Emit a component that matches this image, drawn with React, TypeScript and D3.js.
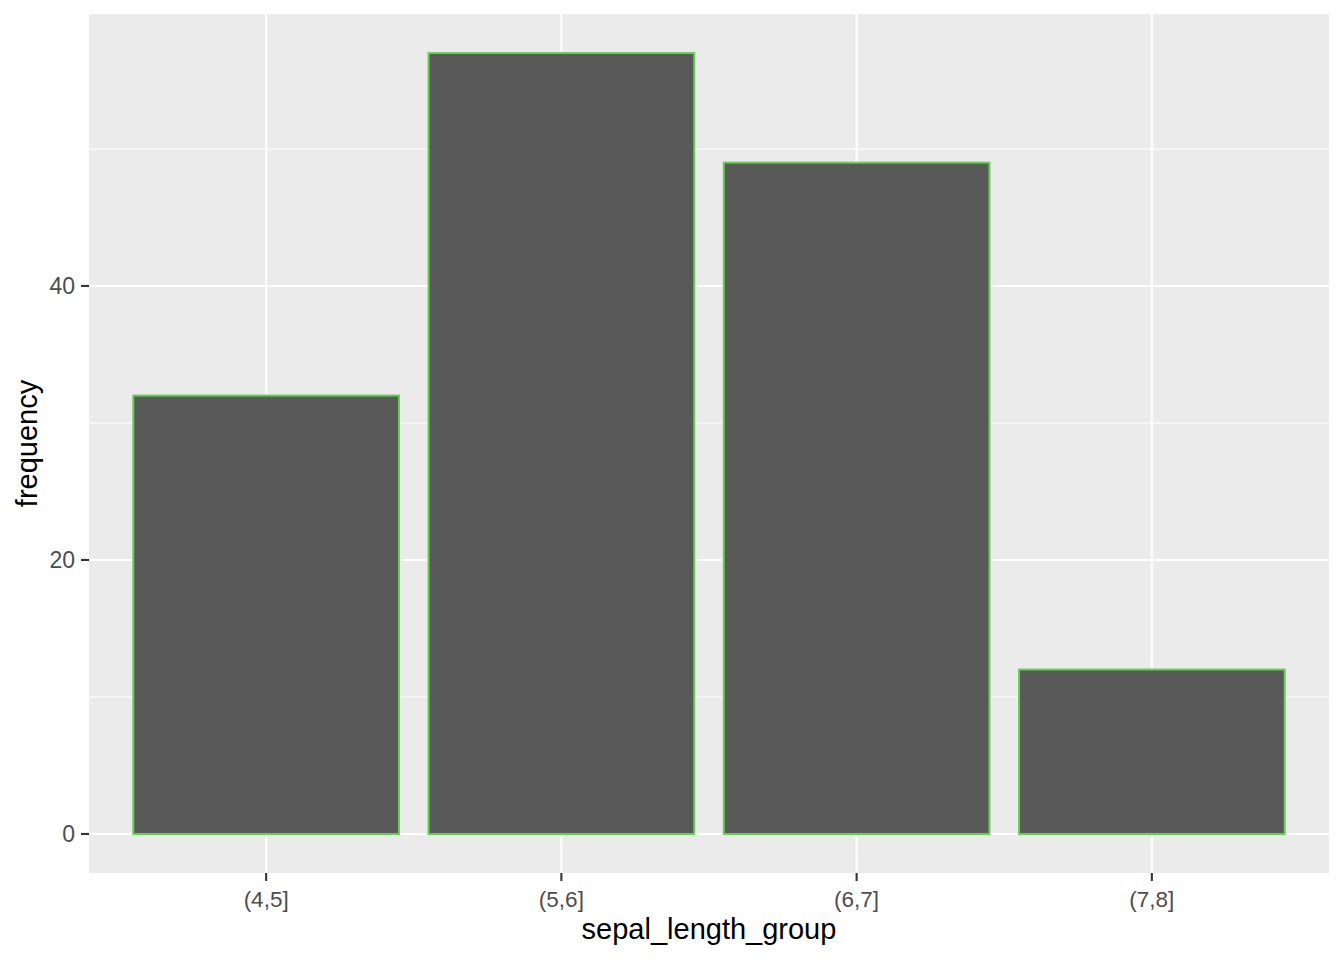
import { useEffect, useRef } from 'react';
import * as d3 from 'd3';

const groups = ['(4,5]', '(5,6]', '(6,7]', '(7,8]'];
const frequency = [32, 57, 49, 12];
const majorTicks = [0, 20, 40];
const minorTicks = [10, 30, 50];

const W = 1344, H = 960;
const PANEL = { l: 89, r: 1329, t: 14, b: 873 };
const FONT = '"Liberation Sans", Arial, sans-serif';

export default function App() {
  const svgRef = useRef<SVGSVGElement>(null);

  useEffect(() => {
    document.body.style.margin = '0';
    if (!svgRef.current) return;
    const svg = d3.select(svgRef.current);
    svg.selectAll('*').remove();

    // ggplot discrete scale: 0.6 units of expansion on each side, bar width 0.9
    const x = d3.scaleLinear().domain([0.4, groups.length + 0.6]).range([PANEL.l, PANEL.r]);
    const yMax = d3.max(frequency) ?? 1;
    const pad = yMax * 0.05;
    const y = d3.scaleLinear().domain([-pad, yMax + pad]).range([PANEL.b, PANEL.t]);

    svg.append('rect')
      .attr('x', PANEL.l).attr('y', PANEL.t)
      .attr('width', PANEL.r - PANEL.l).attr('height', PANEL.b - PANEL.t)
      .attr('fill', '#EBEBEB');

    // Grid
    minorTicks.forEach(t => {
      svg.append('line')
        .attr('x1', PANEL.l).attr('x2', PANEL.r).attr('y1', y(t)).attr('y2', y(t))
        .attr('stroke', '#fff').attr('stroke-width', 1.1);
    });
    majorTicks.forEach(t => {
      svg.append('line')
        .attr('x1', PANEL.l).attr('x2', PANEL.r).attr('y1', y(t)).attr('y2', y(t))
        .attr('stroke', '#fff').attr('stroke-width', 2.1);
    });
    groups.forEach((_, i) => {
      svg.append('line')
        .attr('x1', x(i + 1)).attr('x2', x(i + 1)).attr('y1', PANEL.t).attr('y2', PANEL.b)
        .attr('stroke', '#fff').attr('stroke-width', 2.1);
    });

    // Bars
    svg.append('g').selectAll('rect').data(frequency).enter()
      .append('rect')
      .attr('x', (_, i) => x(i + 1 - 0.45))
      .attr('width', x(1.45) - x(0.55))
      .attr('y', d => y(d))
      .attr('height', d => y(0) - y(d))
      .attr('fill', '#595959')
      .attr('stroke', '#61D04F').attr('stroke-width', 2);

    // Y axis ticks and labels
    majorTicks.forEach(t => {
      svg.append('line')
        .attr('x1', PANEL.l - 8).attr('x2', PANEL.l).attr('y1', y(t)).attr('y2', y(t))
        .attr('stroke', '#333').attr('stroke-width', 2.1);
      svg.append('text')
        .attr('x', PANEL.l - 14).attr('y', y(t) + 8)
        .attr('text-anchor', 'end').attr('font-size', 23).attr('font-family', FONT)
        .attr('fill', '#4D4D4D').text(t);
    });

    // X axis ticks and labels
    groups.forEach((g, i) => {
      svg.append('line')
        .attr('x1', x(i + 1)).attr('x2', x(i + 1)).attr('y1', PANEL.b).attr('y2', PANEL.b + 8)
        .attr('stroke', '#333').attr('stroke-width', 2.1);
      svg.append('text')
        .attr('x', x(i + 1)).attr('y', 907)
        .attr('text-anchor', 'middle').attr('font-size', 22.5).attr('font-family', FONT)
        .attr('fill', '#4D4D4D').text(g);
    });

    // Axis titles
    svg.append('text')
      .attr('x', (PANEL.l + PANEL.r) / 2).attr('y', 939)
      .attr('text-anchor', 'middle').attr('font-size', 29).attr('font-family', FONT)
      .attr('fill', '#000').text('sepal_length_group');
    svg.append('text')
      .attr('transform', `translate(37,${(PANEL.t + PANEL.b) / 2}) rotate(-90)`)
      .attr('text-anchor', 'middle').attr('font-size', 29).attr('font-family', FONT)
      .attr('fill', '#000').text('frequency');
  }, []);

  return <svg ref={svgRef} width={W} height={H} style={{ display: 'block', background: '#fff' }} />;
}
